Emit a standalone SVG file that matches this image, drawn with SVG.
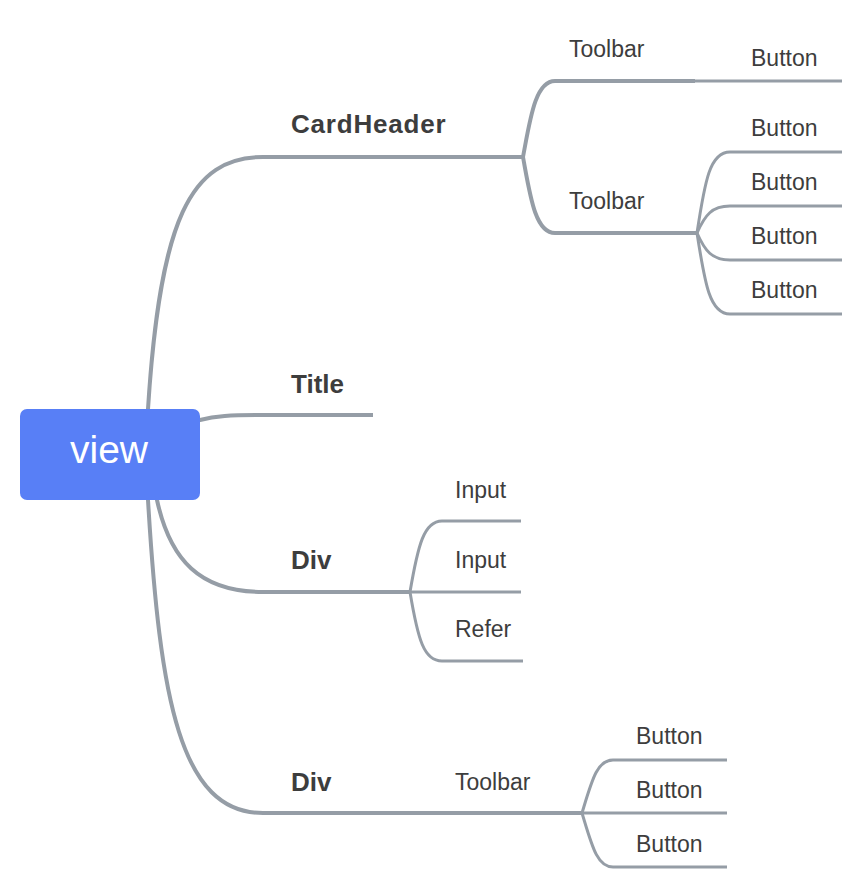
<svg xmlns="http://www.w3.org/2000/svg" width="863" height="890" viewBox="0 0 863 890">
<style>
.c{fill:none;stroke:#959da6;stroke-linecap:butt}
.t4{stroke-width:4}
.t3{stroke-width:3}
.lb{font-family:"Liberation Sans",Arial,sans-serif;font-size:26px;font-weight:bold;fill:#3d3d3d}
.ls{font-family:"Liberation Sans",Arial,sans-serif;font-size:23px;fill:#3d3d3d}
</style>
<rect width="863" height="890" fill="#ffffff"/>
<g id="connectors">
<path class="c t4" d="M148,420 L148,409 C160,220 190,157 263,157 L523,157"/>
<path class="c t4" d="M190,421 L200,420 C215,416 230,415 263,415 L373,415"/>
<path class="c t4" d="M157,490 L157,500 C170,560 200,592 263,592 L410,592"/>
<path class="c t4" d="M148,490 L148,500 C160,700 180,813 263,813 L410,813"/>
<path class="c t4" d="M523,157 C530,120 535,81 555,81 L695,81"/>
<path class="c t4" d="M523,157 C530,195 535,233 555,233 L697,233"/>
<path class="c t3" d="M695,81 L842,81"/>
<path class="c t3" d="M697,233 C705,180 710,152 730,152 L842,152"/>
<path class="c t3" d="M697,233 C705,215 712,206 730,206 L842,206"/>
<path class="c t3" d="M697,233 C705,251 712,260 730,260 L842,260"/>
<path class="c t3" d="M697,233 C705,285 710,314 730,314 L842,314"/>
<path class="c t3" d="M410,592 C418,545 424,521 442,521 L521,521"/>
<path class="c t3" d="M410,592 L521,592"/>
<path class="c t3" d="M410,592 C418,640 424,661 442,661 L523,661"/>
<path class="c t4" d="M410,813 L582,813"/>
<path class="c t3" d="M582,813 C592,780 597,760 613,760 L727,760"/>
<path class="c t3" d="M582,813 L727,813"/>
<path class="c t3" d="M582,813 C592,846 597,867 613,867 L727,867"/>
</g>
<g id="view">
<rect x="20" y="409" width="180" height="91" rx="7" fill="#587ff6"/>
<text x="109" y="463" text-anchor="middle" font-family="Liberation Sans, Arial, sans-serif" font-size="39" fill="#ffffff">view</text>
</g>
<g id="cardheader"><text class="lb" x="291" y="133" letter-spacing="0.8">CardHeader</text></g>
<g id="title"><text class="lb" x="291" y="393">Title</text></g>
<g id="div1"><text class="lb" x="291" y="569">Div</text></g>
<g id="div2"><text class="lb" x="291" y="791">Div</text></g>
<g id="toolbar1"><text class="ls" x="569" y="57">Toolbar</text></g>
<g id="toolbar2"><text class="ls" x="569" y="209">Toolbar</text></g>
<g id="button1"><text class="ls" x="751" y="66">Button</text></g>
<g id="button2"><text class="ls" x="751" y="136">Button</text></g>
<g id="button3"><text class="ls" x="751" y="190">Button</text></g>
<g id="button4"><text class="ls" x="751" y="244">Button</text></g>
<g id="button5"><text class="ls" x="751" y="298">Button</text></g>
<g id="input1"><text class="ls" x="455" y="498">Input</text></g>
<g id="input2"><text class="ls" x="455" y="568">Input</text></g>
<g id="refer"><text class="ls" x="455" y="637">Refer</text></g>
<g id="toolbar3"><text class="ls" x="455" y="790">Toolbar</text></g>
<g id="button6"><text class="ls" x="636" y="744">Button</text></g>
<g id="button7"><text class="ls" x="636" y="798">Button</text></g>
<g id="button8"><text class="ls" x="636" y="852">Button</text></g>
</svg>
